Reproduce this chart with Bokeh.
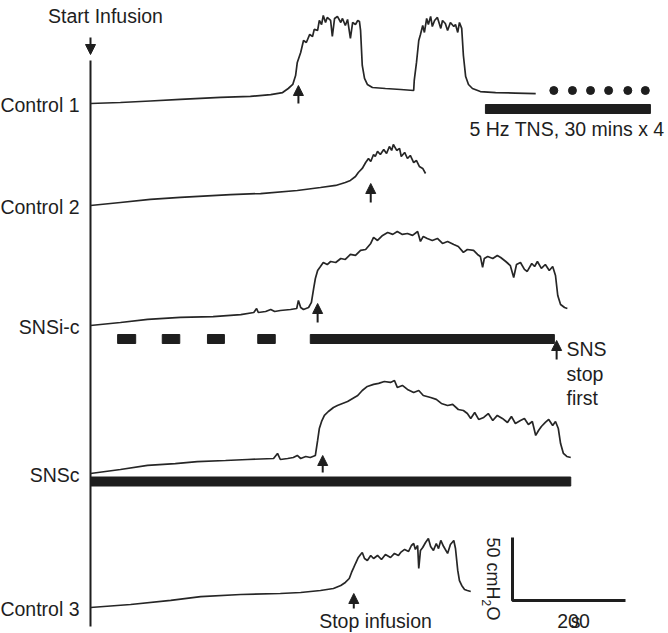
import math
from bokeh.plotting import figure
from bokeh.models import Range1d, Label, Arrow, NormalHead
from bokeh.embed import file_html
from bokeh.resources import INLINE

# ---------------- data (time in s from start of infusion, pressure in cmH2O above trace baseline)
NAMES = ["Control 1", "Control 2", "SNSi-c", "SNSc", "Control 3"]

C1_T = [0, 53, 106, 159, 230, 283, 319, 340, 350, 358, 363, 366, 372, 377, 382, 388, 393, 396, 402, 405,
        409, 412, 416, 419, 425, 428, 432, 437, 443, 446, 451, 455, 460, 464, 469, 473, 476, 478, 481, 485,
        490, 499, 522, 549, 572, 573, 577, 581, 584, 588, 591, 595, 598, 602, 605, 609, 614, 620, 623, 628,
        632, 637, 643, 646, 650, 653, 657, 660, 664, 669, 676, 690, 717, 752, 788]
C1_P = [0, 0.8, 2.0, 3.2, 4.8, 5.6, 7.1, 8.7, 11.9, 15.1, 22.2, 32.6, 40.5, 50.0, 48.4, 54.8, 53.2, 58.8, 58.0, 65.9,
        62.7, 69.9, 64.3, 68.3, 65.9, 53.2, 67.5, 69.1, 64.3, 67.5, 61.9, 66.7, 51.6, 64.3, 62.7, 65.9, 65.1, 58.0, 30.2, 19.9,
        15.1, 12.7, 11.9, 11.1, 10.3, 18.3, 32.6, 50.0, 54.8, 61.9, 56.4, 67.5, 62.7, 69.1, 61.1, 65.9, 68.3, 59.6, 65.9, 63.5,
        58.0, 64.3, 61.1, 62.7, 56.4, 64.3, 59.6, 38.1, 21.4, 15.1, 11.9, 9.5, 8.7, 8.3, 7.9]

C2_T = [0, 53, 106, 159, 248, 301, 366, 407, 434, 451, 460, 469, 474, 481, 487, 492, 496, 501, 504, 508,
        513, 519, 524, 529, 533, 536, 542, 547, 550, 556, 561, 566, 572, 577, 582, 588, 593]
C2_P = [0, 2.4, 4.8, 6.4, 8.7, 9.5, 11.9, 14.3, 15.9, 18.3, 19.9, 23.0, 26.2, 29.4, 34.1, 37.3, 34.9, 40.5, 38.9, 42.9,
        40.5, 44.5, 41.3, 46.8, 43.7, 48.4, 43.7, 45.3, 38.9, 42.1, 37.3, 39.7, 34.1, 35.7, 31.0, 29.4, 25.4]

SNSIC_T = [0, 53, 101, 159, 217, 266, 289, 294, 297, 310, 319, 326, 336, 354, 365, 368, 372, 377, 386, 391,
           395, 398, 402, 407, 412, 419, 425, 434, 443, 451, 460, 469, 478, 487, 496, 501, 508, 517, 526, 535,
           543, 552, 561, 570, 579, 584, 589, 596, 605, 614, 623, 632, 643, 651, 660, 667, 678, 685, 690, 694,
           697, 703, 712, 720, 726, 735, 743, 749, 754, 761, 768, 773, 781, 786, 791, 798, 805, 812, 818, 823,
           827, 832, 839, 844]
SNSIC_P = [0, 2.4, 4.8, 6.4, 7.1, 8.7, 10.3, 13.5, 10.3, 11.1, 12.7, 11.1, 11.9, 12.7, 13.5, 19.9, 14.3, 12.7, 14.3, 18.3,
           29.4, 37.3, 43.7, 46.8, 50.0, 48.4, 50.8, 50.0, 53.2, 52.4, 56.4, 55.6, 59.6, 60.3, 65.1, 69.9, 67.5, 71.5, 73.8, 72.3,
           74.6, 72.3, 73.0, 71.5, 74.6, 66.7, 70.7, 69.1, 67.5, 69.1, 65.1, 66.7, 64.3, 62.7, 58.0, 60.3, 59.6, 56.4, 54.8, 46.1,
           53.2, 54.8, 53.2, 55.6, 54.0, 50.8, 47.6, 38.1, 48.4, 50.0, 44.5, 42.9, 49.2, 46.8, 50.8, 45.3, 48.4, 43.7, 46.8, 39.7,
           23.8, 16.7, 14.3, 13.5]

SNSC_T = [0, 53, 101, 150, 189, 239, 278, 324, 331, 336, 349, 359, 366, 372, 381, 389, 398, 402, 405, 409,
          414, 421, 430, 437, 446, 455, 464, 473, 481, 490, 501, 510, 520, 531, 538, 543, 552, 561, 572, 581,
          589, 602, 612, 621, 632, 641, 651, 660, 667, 673, 680, 687, 696, 704, 712, 720, 729, 738, 745, 752,
          761, 768, 775, 782, 788, 793, 798, 805, 811, 818, 823, 828, 832, 837, 843, 850]
SNSC_P = [0, 3.2, 6.4, 7.9, 9.5, 10.3, 11.1, 11.9, 15.9, 11.1, 11.9, 12.7, 14.3, 11.9, 13.5, 12.7, 14.3, 26.2, 35.7, 41.3,
          46.1, 49.2, 52.4, 54.0, 55.6, 57.2, 59.6, 61.9, 65.9, 69.1, 70.7, 71.5, 73.0, 72.3, 73.8, 68.3, 69.9, 66.7, 64.3, 65.9,
          61.9, 60.3, 58.8, 55.6, 54.0, 54.8, 50.8, 50.0, 47.6, 43.7, 48.4, 42.9, 44.5, 47.6, 42.1, 46.1, 43.7, 40.5, 45.3, 39.7,
          42.1, 43.7, 38.9, 41.3, 30.2, 34.1, 37.3, 40.5, 42.9, 38.1, 41.3, 35.7, 23.8, 15.9, 13.5, 12.7]

C3_T = [0, 71, 142, 195, 266, 336, 372, 407, 430, 443, 451, 458, 462, 466, 469, 474, 478, 481, 485, 490,
        496, 501, 508, 515, 522, 531, 538, 545, 549, 556, 563, 568, 572, 575, 579, 581, 584, 588, 593, 598,
        602, 607, 612, 616, 620, 625, 632, 637, 643, 646, 650, 653, 657, 662, 667, 673]
C3_P = [0, 2.4, 5.6, 8.7, 10.3, 11.1, 11.9, 13.5, 15.1, 17.5, 19.9, 23.0, 27.8, 31.8, 34.9, 39.7, 42.1, 43.7, 38.9, 37.3,
        41.3, 38.9, 41.3, 38.1, 42.1, 39.7, 42.9, 41.3, 43.7, 46.1, 44.5, 49.2, 50.8, 46.1, 49.2, 31.0, 45.3, 47.6, 51.6, 54.8,
        48.4, 45.3, 50.8, 46.8, 53.2, 48.4, 42.9, 50.0, 53.2, 46.8, 29.4, 21.4, 17.5, 14.3, 13.5, 12.7]

# stimulation periods (s)
TNS_START, TNS_END = [699], [991]
TNS_DOTS_T = [820, 853, 885, 917, 951, 982]
SNSIC_STIM_START = [48, 127, 207, 296, 389]
SNSIC_STIM_END = [80, 158, 237, 327, 821]
SNSC_STIM_START, SNSC_STIM_END = [0], [850]
SNS_STOP_T = 825
# stop infusion times (s) for each trace
STOP_T = [368, 496, 402, 411, 466]
# scale bar
SCALE_T, SCALE_P = 200, 50

# ---------------- layout helpers (picture px -> data)
W, H = 668, 633
PX_S = 113 / 200.0   # px per second
PX_CM = 63 / 50.0    # px per cmH2O
X0 = 90


def T(px):
    return (px - X0) / PX_S


def G(py):
    return (H - py) / PX_CM


BASE_PX = [103, 205, 325, 473, 607]
OFF = [G(v) for v in BASE_PX]
ARROW_TIP_PX = [85, 183, 303, 455, 593]
ARROW_TAIL_PX = [103, 202, 322, 472, 608]

INK = "#1e1e1e"
TRACE = "#262626"
FONT = "Liberation Sans"
FS = "19.5px"

p = figure(width=W, height=H, x_range=Range1d(T(0), T(W)), y_range=Range1d(G(H), G(0)),
           output_backend="svg", toolbar_location=None, min_border=0,
           x_axis_type=None, y_axis_type=None)
p.grid.visible = False
p.outline_line_color = None
p.background_fill_color = "white"

# vertical start line
p.segment(x0=[0], y0=[G(60)], x1=[0], y1=[G(626)], line_color=INK, line_width=2)

traces = [(C1_T, C1_P), (C2_T, C2_P), (SNSIC_T, SNSIC_P), (SNSC_T, SNSC_P), (C3_T, C3_P)]
for (tt, pp), off in zip(traces, OFF):
    p.line(tt, [v + off for v in pp], line_color=TRACE, line_width=1.7)

head = dict(size=10, fill_color=INK, line_color=INK)
for t, tip, tail in zip(STOP_T, ARROW_TIP_PX, ARROW_TAIL_PX):
    p.add_layout(Arrow(end=NormalHead(**head), x_start=t, y_start=G(tail),
                       x_end=t, y_end=G(tip), line_color=INK, line_width=2))

p.add_layout(Arrow(end=NormalHead(**head), x_start=0, y_start=G(37),
                   x_end=0, y_end=G(54), line_color=INK, line_width=2))
p.add_layout(Arrow(end=NormalHead(**head), x_start=SNS_STOP_T, y_start=G(359),
                   x_end=SNS_STOP_T, y_end=G(340), line_color=INK, line_width=2))

BAR_H = 9 / PX_CM
p.hbar(y=[G(108.5)], left=TNS_START, right=TNS_END, height=BAR_H, color=INK)
p.scatter(TNS_DOTS_T, [G(90)] * len(TNS_DOTS_T), size=8, color=INK)
p.hbar(y=[G(338.5)] * len(SNSIC_STIM_START), left=SNSIC_STIM_START, right=SNSIC_STIM_END, height=BAR_H, color=INK)
p.hbar(y=[G(481)], left=SNSC_STIM_START, right=SNSC_STIM_END, height=BAR_H, color=INK)

sx0, sy0 = T(512), G(600)
p.line([sx0, sx0, sx0 + SCALE_T], [sy0 + SCALE_P, sy0, sy0], line_color=INK, line_width=3)


def lab(x, y, text, align="left", base="middle", size=FS, angle=0.0):
    p.add_layout(Label(x=x, y=y, text=text, text_align=align, text_baseline=base, text_font=FONT,
                       text_font_size=size, text_color=INK, angle=angle))


lab(T(105), G(15), "Start Infusion", align="center")
for name, by in zip(NAMES, BASE_PX):
    lab(T(79), G(by + 1), name, align="right")
lab(T(469), G(128), "5 Hz TNS, 30 mins x 4")
lab(T(566), G(348), "SNS")
lab(T(566), G(373), "stop")
lab(T(566), G(397), "first")
lab(T(375), G(620), "Stop infusion", align="center")
lab(T(492), G(537), "50 cmH", size="18px", angle=-math.pi / 2)
lab(T(486), G(599), "2", size="12px", angle=-math.pi / 2)
lab(T(492), G(606), "O", size="18px", angle=-math.pi / 2)
lab(T(573), G(620), "200", align="center")
lab(T(575), G(620), "s", align="center")

open("out.html", "w").write(file_html(p, INLINE))
